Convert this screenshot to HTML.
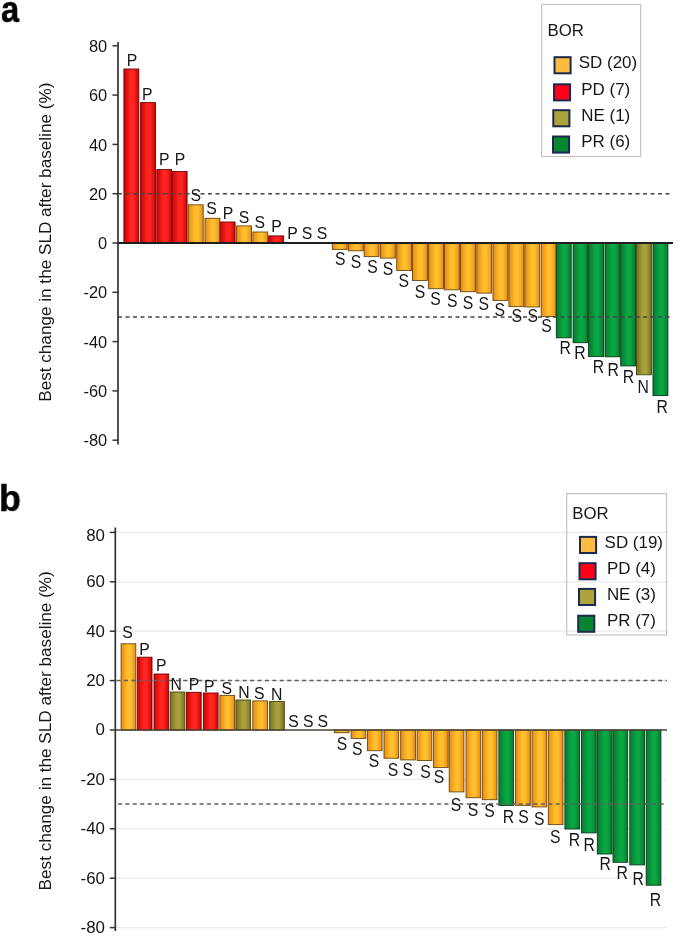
<!DOCTYPE html>
<html><head><meta charset="utf-8"><style>
html,body{margin:0;padding:0;background:#fff;}
body{width:685px;height:948px;overflow:hidden;position:relative;font-family:"Liberation Sans", sans-serif;}
svg{position:absolute;left:0;top:0;will-change:transform;}
svg text{font-family:"Liberation Sans", sans-serif;fill:#161616;}
.pl{position:absolute;font-family:"Liberation Sans", sans-serif;font-weight:bold;color:#000;font-size:37px;line-height:1;-webkit-text-stroke:0.5px #000;transform-origin:0 0;will-change:transform;}
</style></head><body>
<div class="pl" style="left:1px;top:-9px;transform:scaleX(0.88)">a</div>
<div class="pl" style="left:-0.8px;top:480px;transform:scaleX(0.97)">b</div>
<svg width="685" height="948" viewBox="0 0 685 948">
<defs><linearGradient id="gS" x1="0" x2="1" y1="0" y2="0"><stop offset="0" stop-color="#eb8a12"/><stop offset="0.45" stop-color="#ffbf2e"/><stop offset="0.65" stop-color="#ffbf2e"/><stop offset="1" stop-color="#eb8a12"/></linearGradient><linearGradient id="gP" x1="0" x2="1" y1="0" y2="0"><stop offset="0" stop-color="#d00000"/><stop offset="0.45" stop-color="#ff2622"/><stop offset="0.65" stop-color="#ff2622"/><stop offset="1" stop-color="#d00000"/></linearGradient><linearGradient id="gN" x1="0" x2="1" y1="0" y2="0"><stop offset="0" stop-color="#747024"/><stop offset="0.45" stop-color="#a9a23c"/><stop offset="0.65" stop-color="#a9a23c"/><stop offset="1" stop-color="#747024"/></linearGradient><linearGradient id="gR" x1="0" x2="1" y1="0" y2="0"><stop offset="0" stop-color="#077a2e"/><stop offset="0.45" stop-color="#09a644"/><stop offset="0.65" stop-color="#09a644"/><stop offset="1" stop-color="#077a2e"/></linearGradient></defs>
<rect x="123.90" y="69.00" width="14.9" height="174.00" fill="url(#gP)" stroke="#6a0808" stroke-width="0.9"/>
<rect x="140.60" y="102.60" width="14.9" height="140.40" fill="url(#gP)" stroke="#6a0808" stroke-width="0.9"/>
<rect x="156.80" y="169.60" width="14.9" height="73.40" fill="url(#gP)" stroke="#6a0808" stroke-width="0.9"/>
<rect x="172.20" y="171.50" width="14.9" height="71.50" fill="url(#gP)" stroke="#6a0808" stroke-width="0.9"/>
<rect x="188.30" y="204.80" width="14.9" height="38.20" fill="url(#gS)" stroke="#6a4812" stroke-width="0.9"/>
<rect x="205.00" y="218.30" width="14.9" height="24.70" fill="url(#gS)" stroke="#6a4812" stroke-width="0.9"/>
<rect x="220.20" y="222.00" width="14.9" height="21.00" fill="url(#gP)" stroke="#6a0808" stroke-width="0.9"/>
<rect x="236.60" y="225.90" width="14.9" height="17.10" fill="url(#gS)" stroke="#6a4812" stroke-width="0.9"/>
<rect x="252.90" y="232.00" width="14.9" height="11.00" fill="url(#gS)" stroke="#6a4812" stroke-width="0.9"/>
<rect x="268.70" y="235.90" width="14.9" height="7.10" fill="url(#gP)" stroke="#6a0808" stroke-width="0.9"/>
<rect x="332.30" y="243.00" width="14.9" height="6.40" fill="url(#gS)" stroke="#6a4812" stroke-width="0.9"/>
<rect x="348.40" y="243.00" width="14.9" height="7.80" fill="url(#gS)" stroke="#6a4812" stroke-width="0.9"/>
<rect x="364.10" y="243.00" width="14.9" height="13.60" fill="url(#gS)" stroke="#6a4812" stroke-width="0.9"/>
<rect x="380.40" y="243.00" width="14.9" height="15.10" fill="url(#gS)" stroke="#6a4812" stroke-width="0.9"/>
<rect x="396.70" y="243.00" width="14.9" height="27.50" fill="url(#gS)" stroke="#6a4812" stroke-width="0.9"/>
<rect x="412.50" y="243.00" width="14.9" height="37.50" fill="url(#gS)" stroke="#6a4812" stroke-width="0.9"/>
<rect x="428.60" y="243.00" width="14.9" height="45.70" fill="url(#gS)" stroke="#6a4812" stroke-width="0.9"/>
<rect x="444.50" y="243.00" width="14.9" height="46.80" fill="url(#gS)" stroke="#6a4812" stroke-width="0.9"/>
<rect x="460.50" y="243.00" width="14.9" height="48.70" fill="url(#gS)" stroke="#6a4812" stroke-width="0.9"/>
<rect x="476.80" y="243.00" width="14.9" height="50.10" fill="url(#gS)" stroke="#6a4812" stroke-width="0.9"/>
<rect x="493.00" y="243.00" width="14.9" height="57.40" fill="url(#gS)" stroke="#6a4812" stroke-width="0.9"/>
<rect x="508.90" y="243.00" width="14.9" height="63.60" fill="url(#gS)" stroke="#6a4812" stroke-width="0.9"/>
<rect x="524.80" y="243.00" width="14.9" height="64.00" fill="url(#gS)" stroke="#6a4812" stroke-width="0.9"/>
<rect x="541.20" y="243.00" width="14.9" height="73.40" fill="url(#gS)" stroke="#6a4812" stroke-width="0.9"/>
<rect x="556.30" y="243.00" width="14.9" height="94.80" fill="url(#gR)" stroke="#0b3a1a" stroke-width="0.9"/>
<rect x="573.10" y="243.00" width="14.9" height="99.70" fill="url(#gR)" stroke="#0b3a1a" stroke-width="0.9"/>
<rect x="588.60" y="243.00" width="14.9" height="113.60" fill="url(#gR)" stroke="#0b3a1a" stroke-width="0.9"/>
<rect x="605.00" y="243.00" width="14.9" height="113.80" fill="url(#gR)" stroke="#0b3a1a" stroke-width="0.9"/>
<rect x="620.70" y="243.00" width="14.9" height="122.90" fill="url(#gR)" stroke="#0b3a1a" stroke-width="0.9"/>
<rect x="636.50" y="243.00" width="14.9" height="131.80" fill="url(#gN)" stroke="#4a4412" stroke-width="0.9"/>
<rect x="653.00" y="243.00" width="14.9" height="152.60" fill="url(#gR)" stroke="#0b3a1a" stroke-width="0.9"/>
<line x1="118" y1="243" x2="673" y2="243" stroke="#1e1e1e" stroke-width="2"/>
<line x1="118" y1="193.70" x2="673" y2="193.70" stroke="#444" stroke-width="1.5" stroke-dasharray="4 3.5" stroke-dashoffset="0"/>
<line x1="118" y1="316.95" x2="673" y2="316.95" stroke="#444" stroke-width="1.5" stroke-dasharray="4 3.5" stroke-dashoffset="0"/>
<line x1="118" y1="42" x2="118" y2="444.5" stroke="#333" stroke-width="1.7"/>
<line x1="112.5" y1="45.80" x2="118" y2="45.80" stroke="#333" stroke-width="1.5"/>
<text x="107.2" y="51.90" text-anchor="end" font-size="16.4">80</text>
<line x1="112.5" y1="95.10" x2="118" y2="95.10" stroke="#333" stroke-width="1.5"/>
<text x="107.2" y="101.20" text-anchor="end" font-size="16.4">60</text>
<line x1="112.5" y1="144.40" x2="118" y2="144.40" stroke="#333" stroke-width="1.5"/>
<text x="107.2" y="150.50" text-anchor="end" font-size="16.4">40</text>
<line x1="112.5" y1="193.70" x2="118" y2="193.70" stroke="#333" stroke-width="1.5"/>
<text x="107.2" y="199.80" text-anchor="end" font-size="16.4">20</text>
<line x1="112.5" y1="243.00" x2="118" y2="243.00" stroke="#333" stroke-width="1.5"/>
<text x="107.2" y="249.10" text-anchor="end" font-size="16.4">0</text>
<line x1="112.5" y1="292.30" x2="118" y2="292.30" stroke="#333" stroke-width="1.5"/>
<text x="107.2" y="298.40" text-anchor="end" font-size="16.4">-20</text>
<line x1="112.5" y1="341.60" x2="118" y2="341.60" stroke="#333" stroke-width="1.5"/>
<text x="107.2" y="347.70" text-anchor="end" font-size="16.4">-40</text>
<line x1="112.5" y1="390.90" x2="118" y2="390.90" stroke="#333" stroke-width="1.5"/>
<text x="107.2" y="397.00" text-anchor="end" font-size="16.4">-60</text>
<line x1="112.5" y1="440.20" x2="118" y2="440.20" stroke="#333" stroke-width="1.5"/>
<text x="107.2" y="446.30" text-anchor="end" font-size="16.4">-80</text>
<text transform="translate(132.00,65.90) scale(1,1.03)" text-anchor="middle" font-size="15.8">P</text>
<text transform="translate(147.20,99.80) scale(1,1.03)" text-anchor="middle" font-size="15.8">P</text>
<text transform="translate(164.20,164.70) scale(1,1.03)" text-anchor="middle" font-size="15.8">P</text>
<text transform="translate(180.00,164.70) scale(1,1.03)" text-anchor="middle" font-size="15.8">P</text>
<text transform="translate(195.80,200.50) scale(1,1.03)" text-anchor="middle" font-size="15.8">S</text>
<text transform="translate(211.60,213.70) scale(1,1.03)" text-anchor="middle" font-size="15.8">S</text>
<text transform="translate(228.00,218.60) scale(1,1.03)" text-anchor="middle" font-size="15.8">P</text>
<text transform="translate(244.10,222.60) scale(1,1.03)" text-anchor="middle" font-size="15.8">S</text>
<text transform="translate(259.80,228.20) scale(1,1.03)" text-anchor="middle" font-size="15.8">S</text>
<text transform="translate(276.50,232.40) scale(1,1.03)" text-anchor="middle" font-size="15.8">P</text>
<text transform="translate(292.60,239.20) scale(1,1.03)" text-anchor="middle" font-size="15.8">P</text>
<text transform="translate(307.00,239.20) scale(1,1.03)" text-anchor="middle" font-size="15.8">S</text>
<text transform="translate(322.00,239.20) scale(1,1.03)" text-anchor="middle" font-size="15.8">S</text>
<text transform="translate(340.20,265.17) scale(1,1.12)" text-anchor="middle" font-size="15.8">S</text>
<text transform="translate(355.90,267.87) scale(1,1.12)" text-anchor="middle" font-size="15.8">S</text>
<text transform="translate(372.40,273.07) scale(1,1.12)" text-anchor="middle" font-size="15.8">S</text>
<text transform="translate(387.90,275.07) scale(1,1.12)" text-anchor="middle" font-size="15.8">S</text>
<text transform="translate(403.80,287.17) scale(1,1.12)" text-anchor="middle" font-size="15.8">S</text>
<text transform="translate(420.00,298.37) scale(1,1.12)" text-anchor="middle" font-size="15.8">S</text>
<text transform="translate(435.50,304.97) scale(1,1.12)" text-anchor="middle" font-size="15.8">S</text>
<text transform="translate(452.20,306.77) scale(1,1.12)" text-anchor="middle" font-size="15.8">S</text>
<text transform="translate(468.10,308.97) scale(1,1.12)" text-anchor="middle" font-size="15.8">S</text>
<text transform="translate(483.80,309.97) scale(1,1.12)" text-anchor="middle" font-size="15.8">S</text>
<text transform="translate(499.70,315.77) scale(1,1.12)" text-anchor="middle" font-size="15.8">S</text>
<text transform="translate(516.80,321.67) scale(1,1.12)" text-anchor="middle" font-size="15.8">S</text>
<text transform="translate(532.80,322.37) scale(1,1.12)" text-anchor="middle" font-size="15.8">S</text>
<text transform="translate(546.50,331.87) scale(1,1.12)" text-anchor="middle" font-size="15.8">S</text>
<text transform="translate(565.30,353.87) scale(1,1.12)" text-anchor="middle" font-size="15.8">R</text>
<text transform="translate(580.00,358.97) scale(1,1.12)" text-anchor="middle" font-size="15.8">R</text>
<text transform="translate(598.40,372.77) scale(1,1.12)" text-anchor="middle" font-size="15.8">R</text>
<text transform="translate(613.30,375.67) scale(1,1.12)" text-anchor="middle" font-size="15.8">R</text>
<text transform="translate(628.40,382.97) scale(1,1.12)" text-anchor="middle" font-size="15.8">R</text>
<text transform="translate(643.30,392.77) scale(1,1.12)" text-anchor="middle" font-size="15.8">N</text>
<text transform="translate(662.20,413.17) scale(1,1.12)" text-anchor="middle" font-size="15.8">R</text>
<text transform="translate(51,242.2) rotate(-90)" text-anchor="middle" font-size="17.15">Best change in the SLD after baseline (%)</text>
<rect x="541.7" y="4.5" width="99" height="152" fill="#fff" stroke="#c4c4c4" stroke-width="1.2"/>
<text x="547.5" y="35.5" font-size="16.8">BOR</text>
<rect x="554.5" y="57.2" width="16.1" height="16.1" fill="#fdbb40" stroke="#1c2a52" stroke-width="2"/>
<text x="578.8" y="67.80" font-size="16.95">SD (20)</text>
<rect x="554" y="84.3" width="16.1" height="16.1" fill="#ff0016" stroke="#1c2a52" stroke-width="2"/>
<text x="581.3" y="94.90" font-size="16.95">PD (7)</text>
<rect x="553.3" y="110.2" width="16.1" height="16.1" fill="#aca43a" stroke="#1c2a52" stroke-width="2"/>
<text x="581.3" y="120.80" font-size="16.95">NE (1)</text>
<rect x="553" y="136.5" width="16.1" height="16.1" fill="#07862f" stroke="#1c2a52" stroke-width="2"/>
<text x="581.3" y="147.10" font-size="16.95">PR (6)</text>
<line x1="115.3" y1="532.40" x2="667" y2="532.40" stroke="#eaeaea" stroke-width="1.3"/>
<line x1="115.3" y1="581.80" x2="667" y2="581.80" stroke="#eaeaea" stroke-width="1.3"/>
<line x1="115.3" y1="631.20" x2="667" y2="631.20" stroke="#eaeaea" stroke-width="1.3"/>
<line x1="115.3" y1="680.60" x2="667" y2="680.60" stroke="#eaeaea" stroke-width="1.3"/>
<line x1="115.3" y1="779.40" x2="667" y2="779.40" stroke="#eaeaea" stroke-width="1.3"/>
<line x1="115.3" y1="828.80" x2="667" y2="828.80" stroke="#eaeaea" stroke-width="1.3"/>
<line x1="115.3" y1="878.20" x2="667" y2="878.20" stroke="#eaeaea" stroke-width="1.3"/>
<line x1="115.3" y1="927.60" x2="667" y2="927.60" stroke="#eaeaea" stroke-width="1.3"/>
<rect x="121.10" y="643.80" width="14.7" height="86.20" fill="url(#gS)" stroke="#6a4812" stroke-width="0.9"/>
<rect x="137.30" y="657.20" width="14.7" height="72.80" fill="url(#gP)" stroke="#6a0808" stroke-width="0.9"/>
<rect x="154.00" y="674.00" width="14.7" height="56.00" fill="url(#gP)" stroke="#6a0808" stroke-width="0.9"/>
<rect x="170.20" y="692.00" width="14.7" height="38.00" fill="url(#gN)" stroke="#4a4412" stroke-width="0.9"/>
<rect x="186.50" y="692.30" width="14.7" height="37.70" fill="url(#gP)" stroke="#6a0808" stroke-width="0.9"/>
<rect x="203.40" y="693.00" width="14.7" height="37.00" fill="url(#gP)" stroke="#6a0808" stroke-width="0.9"/>
<rect x="219.90" y="695.40" width="14.7" height="34.60" fill="url(#gS)" stroke="#6a4812" stroke-width="0.9"/>
<rect x="235.90" y="700.00" width="14.7" height="30.00" fill="url(#gN)" stroke="#4a4412" stroke-width="0.9"/>
<rect x="252.80" y="700.90" width="14.7" height="29.10" fill="url(#gS)" stroke="#6a4812" stroke-width="0.9"/>
<rect x="269.60" y="701.50" width="14.7" height="28.50" fill="url(#gN)" stroke="#4a4412" stroke-width="0.9"/>
<rect x="334.30" y="730.00" width="14.7" height="2.70" fill="url(#gS)" stroke="#6a4812" stroke-width="0.9"/>
<rect x="351.10" y="730.00" width="14.7" height="8.40" fill="url(#gS)" stroke="#6a4812" stroke-width="0.9"/>
<rect x="367.40" y="730.00" width="14.7" height="20.70" fill="url(#gS)" stroke="#6a4812" stroke-width="0.9"/>
<rect x="384.00" y="730.00" width="14.7" height="28.20" fill="url(#gS)" stroke="#6a4812" stroke-width="0.9"/>
<rect x="400.70" y="730.00" width="14.7" height="29.90" fill="url(#gS)" stroke="#6a4812" stroke-width="0.9"/>
<rect x="417.10" y="730.00" width="14.7" height="30.50" fill="url(#gS)" stroke="#6a4812" stroke-width="0.9"/>
<rect x="433.40" y="730.00" width="14.7" height="37.60" fill="url(#gS)" stroke="#6a4812" stroke-width="0.9"/>
<rect x="449.20" y="730.00" width="14.7" height="61.90" fill="url(#gS)" stroke="#6a4812" stroke-width="0.9"/>
<rect x="466.00" y="730.00" width="14.7" height="67.70" fill="url(#gS)" stroke="#6a4812" stroke-width="0.9"/>
<rect x="482.30" y="730.00" width="14.7" height="69.70" fill="url(#gS)" stroke="#6a4812" stroke-width="0.9"/>
<rect x="498.90" y="730.00" width="14.7" height="75.40" fill="url(#gR)" stroke="#0b3a1a" stroke-width="0.9"/>
<rect x="515.60" y="730.00" width="14.7" height="75.40" fill="url(#gS)" stroke="#6a4812" stroke-width="0.9"/>
<rect x="532.00" y="730.00" width="14.7" height="76.90" fill="url(#gS)" stroke="#6a4812" stroke-width="0.9"/>
<rect x="548.30" y="730.00" width="14.7" height="94.60" fill="url(#gS)" stroke="#6a4812" stroke-width="0.9"/>
<rect x="564.90" y="730.00" width="14.7" height="99.00" fill="url(#gR)" stroke="#0b3a1a" stroke-width="0.9"/>
<rect x="581.50" y="730.00" width="14.7" height="102.90" fill="url(#gR)" stroke="#0b3a1a" stroke-width="0.9"/>
<rect x="597.30" y="730.00" width="14.7" height="124.00" fill="url(#gR)" stroke="#0b3a1a" stroke-width="0.9"/>
<rect x="613.00" y="730.00" width="14.7" height="132.30" fill="url(#gR)" stroke="#0b3a1a" stroke-width="0.9"/>
<rect x="629.80" y="730.00" width="14.7" height="134.90" fill="url(#gR)" stroke="#0b3a1a" stroke-width="0.9"/>
<rect x="646.20" y="730.00" width="14.7" height="155.20" fill="url(#gR)" stroke="#0b3a1a" stroke-width="0.9"/>
<line x1="115.3" y1="730" x2="667" y2="730" stroke="#4e4234" stroke-width="1.4"/>
<line x1="115.3" y1="680.60" x2="667" y2="680.60" stroke="#606060" stroke-width="1.5" stroke-dasharray="4.1 3.32" stroke-dashoffset="-1.2"/>
<line x1="115.3" y1="804.10" x2="667" y2="804.10" stroke="#606060" stroke-width="1.5" stroke-dasharray="4.1 3.32" stroke-dashoffset="-2.6"/>
<line x1="115.3" y1="527.6" x2="115.3" y2="931" stroke="#333" stroke-width="1.7"/>
<line x1="109.8" y1="532.40" x2="115.3" y2="532.40" stroke="#333" stroke-width="1.5"/>
<text x="105.0" y="540.60" text-anchor="end" font-size="16.9">80</text>
<line x1="109.8" y1="581.80" x2="115.3" y2="581.80" stroke="#333" stroke-width="1.5"/>
<text x="105.0" y="587.20" text-anchor="end" font-size="16.9">60</text>
<line x1="109.8" y1="631.20" x2="115.3" y2="631.20" stroke="#333" stroke-width="1.5"/>
<text x="105.0" y="636.60" text-anchor="end" font-size="16.9">40</text>
<line x1="109.8" y1="680.60" x2="115.3" y2="680.60" stroke="#333" stroke-width="1.5"/>
<text x="105.0" y="686.00" text-anchor="end" font-size="16.9">20</text>
<line x1="109.8" y1="730.00" x2="115.3" y2="730.00" stroke="#333" stroke-width="1.5"/>
<text x="105.0" y="735.40" text-anchor="end" font-size="16.9">0</text>
<line x1="109.8" y1="779.40" x2="115.3" y2="779.40" stroke="#333" stroke-width="1.5"/>
<text x="105.0" y="784.80" text-anchor="end" font-size="16.9">-20</text>
<line x1="109.8" y1="828.80" x2="115.3" y2="828.80" stroke="#333" stroke-width="1.5"/>
<text x="105.0" y="834.20" text-anchor="end" font-size="16.9">-40</text>
<line x1="109.8" y1="878.20" x2="115.3" y2="878.20" stroke="#333" stroke-width="1.5"/>
<text x="105.0" y="883.60" text-anchor="end" font-size="16.9">-60</text>
<line x1="109.8" y1="927.60" x2="115.3" y2="927.60" stroke="#333" stroke-width="1.5"/>
<text x="105.0" y="933.00" text-anchor="end" font-size="16.9">-80</text>
<text transform="translate(127.50,638.00) scale(1,1.03)" text-anchor="middle" font-size="15.8">S</text>
<text transform="translate(144.50,655.00) scale(1,1.03)" text-anchor="middle" font-size="15.8">P</text>
<text transform="translate(161.20,671.00) scale(1,1.03)" text-anchor="middle" font-size="15.8">P</text>
<text transform="translate(176.10,690.00) scale(1,1.03)" text-anchor="middle" font-size="15.8">N</text>
<text transform="translate(194.00,690.00) scale(1,1.03)" text-anchor="middle" font-size="15.8">P</text>
<text transform="translate(209.30,691.60) scale(1,1.03)" text-anchor="middle" font-size="15.8">P</text>
<text transform="translate(226.70,693.50) scale(1,1.03)" text-anchor="middle" font-size="15.8">S</text>
<text transform="translate(244.00,698.30) scale(1,1.03)" text-anchor="middle" font-size="15.8">N</text>
<text transform="translate(259.20,698.60) scale(1,1.03)" text-anchor="middle" font-size="15.8">S</text>
<text transform="translate(276.80,699.80) scale(1,1.03)" text-anchor="middle" font-size="15.8">N</text>
<text transform="translate(293.60,727.20) scale(1,1.03)" text-anchor="middle" font-size="15.8">S</text>
<text transform="translate(308.20,727.20) scale(1,1.03)" text-anchor="middle" font-size="15.8">S</text>
<text transform="translate(322.70,727.20) scale(1,1.03)" text-anchor="middle" font-size="15.8">S</text>
<text transform="translate(341.90,750.17) scale(1,1.12)" text-anchor="middle" font-size="15.8">S</text>
<text transform="translate(357.20,755.47) scale(1,1.12)" text-anchor="middle" font-size="15.8">S</text>
<text transform="translate(374.00,766.87) scale(1,1.12)" text-anchor="middle" font-size="15.8">S</text>
<text transform="translate(393.00,775.57) scale(1,1.12)" text-anchor="middle" font-size="15.8">S</text>
<text transform="translate(407.70,776.47) scale(1,1.12)" text-anchor="middle" font-size="15.8">S</text>
<text transform="translate(425.50,778.27) scale(1,1.12)" text-anchor="middle" font-size="15.8">S</text>
<text transform="translate(439.00,782.57) scale(1,1.12)" text-anchor="middle" font-size="15.8">S</text>
<text transform="translate(456.00,810.67) scale(1,1.12)" text-anchor="middle" font-size="15.8">S</text>
<text transform="translate(472.90,815.97) scale(1,1.12)" text-anchor="middle" font-size="15.8">S</text>
<text transform="translate(489.50,816.87) scale(1,1.12)" text-anchor="middle" font-size="15.8">S</text>
<text transform="translate(508.50,823.47) scale(1,1.12)" text-anchor="middle" font-size="15.8">R</text>
<text transform="translate(523.50,823.47) scale(1,1.12)" text-anchor="middle" font-size="15.8">S</text>
<text transform="translate(539.30,824.77) scale(1,1.12)" text-anchor="middle" font-size="15.8">S</text>
<text transform="translate(555.20,843.47) scale(1,1.12)" text-anchor="middle" font-size="15.8">S</text>
<text transform="translate(574.40,846.37) scale(1,1.12)" text-anchor="middle" font-size="15.8">R</text>
<text transform="translate(589.30,850.77) scale(1,1.12)" text-anchor="middle" font-size="15.8">R</text>
<text transform="translate(605.20,870.47) scale(1,1.12)" text-anchor="middle" font-size="15.8">R</text>
<text transform="translate(622.20,879.37) scale(1,1.12)" text-anchor="middle" font-size="15.8">R</text>
<text transform="translate(638.30,884.97) scale(1,1.12)" text-anchor="middle" font-size="15.8">R</text>
<text transform="translate(655.50,905.87) scale(1,1.12)" text-anchor="middle" font-size="15.8">R</text>
<text transform="translate(51.4,730.8) rotate(-90)" text-anchor="middle" font-size="17.15">Best change in the SLD after baseline (%)</text>
<rect x="566.7" y="493.6" width="99.8" height="141.4" fill="none" stroke="#c4c4c4" stroke-width="1.2"/>
<text x="572.3" y="518.8" font-size="16.8">BOR</text>
<rect x="580" y="536.9" width="16.1" height="16.1" fill="#fdbb40" stroke="#1c2a52" stroke-width="2"/>
<text x="604.6" y="547.50" font-size="16.95">SD (19)</text>
<rect x="579.5" y="563.2" width="16.1" height="16.1" fill="#ff0016" stroke="#1c2a52" stroke-width="2"/>
<text x="606.9" y="573.80" font-size="16.95">PD (4)</text>
<rect x="579" y="588.9" width="16.1" height="16.1" fill="#aca43a" stroke="#1c2a52" stroke-width="2"/>
<text x="606.9" y="599.50" font-size="16.95">NE (3)</text>
<rect x="578.2" y="615.7" width="16.1" height="16.1" fill="#07862f" stroke="#1c2a52" stroke-width="2"/>
<text x="606.9" y="626.30" font-size="16.95">PR (7)</text>
</svg>
</body></html>
